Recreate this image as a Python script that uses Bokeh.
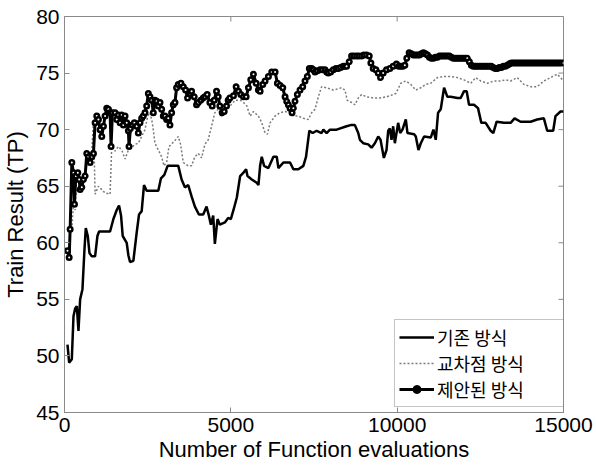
import math
from bokeh.plotting import figure
from bokeh.models import Range1d, FixedTicker, Legend, LegendItem
from bokeh.embed import file_html
from bokeh.resources import INLINE

# ---- data ----
x_lo, x_hi = 0, 15000
y_lo, y_hi = 45, 80
x_ticks = [0, 5000, 10000, 15000]
y_ticks = [45, 50, 55, 60, 65, 70, 75, 80]

legend_labels = ["기존 방식", "교차점 방식", "제안된 방식"]

# 기존 방식 (solid)
a_x = [90, 140, 220, 270, 320, 370, 420, 470, 540, 600, 640, 700, 750, 820, 920, 990, 1040,
       1370, 1470, 1570, 1640, 1700, 1750, 1870, 1920, 1970, 2070, 2170, 2240, 2320, 2390, 2470,
       2820, 2900, 3000, 3100, 3420, 3520, 3620, 3720, 3820, 3920, 4040, 4170, 4270, 4340, 4400,
       4470, 4520, 4600, 4670, 4820, 4920,
       5000, 5080, 5180, 5280, 5380, 5460, 5500, 5630, 5780, 5830, 5880, 5930, 6000, 6130, 6280,
       6380, 6430, 6580, 6780, 6880, 7030, 7180, 7260, 7360, 7460, 7580, 7730, 7780, 7880, 7980,
       8180, 8480, 8600, 8730, 8830, 8880, 8980, 9130, 9230, 9330, 9430, 9500, 9600, 9680, 9730,
       9780, 9830, 9880,
       9930, 10030, 10090, 10160, 10260, 10310, 10510, 10560, 10640, 10710, 10810, 11010, 11090,
       11160, 11230, 11310, 11410, 11510, 11610, 11810, 11910, 12010, 12090, 12160, 12310, 12430,
       12530, 12660, 12810, 12890, 12990, 13210, 13410, 13530, 13710, 14010, 14210, 14410, 14510,
       14690, 14760, 14910, 15000]
a_y = [51.0, 49.4, 49.7, 53.5, 54.2, 54.4, 52.2, 55.0, 55.9, 59.4, 61.3, 60.6, 59.1, 58.8, 58.8, 60.6, 61.0,
       61.0, 62.1, 62.9, 63.3, 62.4, 60.6, 60.0, 58.9, 58.3, 58.4, 60.9, 62.5, 62.8, 65.1, 64.6,
       64.6, 65.7, 66.0, 66.8, 66.8, 65.6, 64.9, 65.1, 64.1, 63.2, 62.5, 62.5, 63.2, 62.4, 61.6,
       62.4, 59.9, 62.1, 61.6, 61.8, 62.2,
       62.1, 62.9, 64.0, 65.9, 66.2, 66.5, 65.9, 65.6, 65.3, 65.1, 66.8, 67.6, 66.8, 66.6, 67.6,
       67.6, 66.6, 67.1, 67.1, 66.5, 66.5, 66.8, 67.6, 69.9, 69.7, 69.9, 69.7, 70.0, 69.7, 70.0,
       70.0, 70.3, 70.4, 70.4, 69.7, 69.1, 68.8, 68.7, 68.4, 68.8, 69.4, 69.1, 67.5, 68.2, 69.9,
       70.1, 69.1, 70.3,
       68.8, 70.6, 69.7, 70.0, 70.9, 69.7, 69.6, 69.4, 68.2, 68.8, 69.4, 69.3, 70.0,
       69.1, 71.5, 71.8, 73.7, 72.9, 72.9, 72.8, 72.8, 73.4, 73.4, 72.2, 72.2, 71.9,
       70.6, 70.6, 69.9, 69.7, 70.7, 70.6, 70.6, 71.0, 70.7, 70.7, 70.9, 71.0, 69.9,
       69.9, 71.2, 71.6, 71.6]

# 교차점 방식 (dotted)
b_x = [220, 270, 320, 370, 440, 520, 620, 700, 800, 870, 920, 1020, 1120, 1220, 1370, 1420, 1520,
       1620, 1720, 1820, 1920, 2020, 2120, 2220, 2320, 2420, 2500, 2570, 2640, 2720, 2820, 2920,
       2990, 3070, 3140, 3240, 3340, 3420, 3490, 3570, 3720, 3820, 3920, 4020, 4120, 4220, 4320,
       4420, 4520, 4620, 4720, 4820, 4920,
       4980, 5130, 5280, 5380, 5480, 5580, 5680, 5830, 5930, 6030, 6100, 6180, 6330, 6480, 6630,
       6780, 6880, 7030, 7180, 7330, 7430, 7530, 7630, 7730, 7880, 8080, 8330, 8430, 8500, 8630,
       8730, 8830, 8930, 9080, 9280, 9480, 9680, 9880,
       9960, 10110, 10260, 10410, 10560, 10710, 10860, 11010, 11210, 11410, 11610, 11810, 12010,
       12210, 12360, 12510, 12710, 12910, 13110, 13260, 13410, 13610, 13810, 14010, 14210, 14410,
       14610, 14810, 14910, 15000]
b_y = [61.2, 63.5, 62.9, 66.2, 65.6, 65.0, 65.9, 67.6, 67.1, 70.6, 64.3, 65.0, 64.7, 64.4, 64.3, 68.5, 68.1,
       68.5, 68.2, 67.4, 68.2, 68.4, 68.7, 68.8, 69.4, 70.0, 71.2, 71.5, 70.6, 68.8, 68.2, 67.6,
       66.8, 67.1, 68.5, 68.8, 69.1, 69.4, 68.7, 67.1, 66.8, 66.8, 67.6, 67.9, 67.5, 68.7, 69.1,
       70.3, 71.5, 71.8, 71.2, 71.8, 72.1,
       72.1, 72.6, 72.6, 72.4, 72.1, 71.2, 71.6, 71.2, 70.6, 69.7, 69.6, 70.6, 71.2, 71.5, 71.6,
       71.5, 71.2, 71.2, 71.0, 70.9, 71.5, 71.8, 72.9, 73.8, 73.7, 73.5, 73.7, 73.5, 72.6, 72.4,
       72.2, 72.8, 73.1, 72.9, 72.8, 72.8, 72.9, 73.1,
       73.2, 74.1, 74.3, 74.0, 73.5, 73.7, 74.0, 74.1, 74.6, 74.7, 74.7, 74.6, 74.4,
       74.1, 74.6, 74.3, 74.1, 74.3, 74.3, 74.4, 74.3, 74.6, 74.0, 73.8, 73.8, 74.3,
       74.6, 74.9, 74.6, 74.3]

# 제안된 방식 (circles)
c_x = [90, 140, 170, 220, 270, 300, 340, 400, 440, 470, 520, 570, 620, 670, 720, 770, 820, 870,
       920, 970, 1020, 1070, 1120, 1170, 1220, 1270, 1320, 1370, 1400, 1440, 1520, 1570, 1620,
       1670, 1720, 1770, 1820, 1870, 1920, 1940, 1980, 2040, 2100, 2170, 2220, 2270, 2320, 2370,
       2420, 2470, 2520, 2570, 2620, 2670, 2720, 2770, 2820, 2870, 2920, 2970, 3020, 3070, 3120,
       3170, 3220, 3270, 3320, 3370, 3420, 3500, 3570, 3640, 3700, 3770, 3820, 3900, 3970, 4020,
       4100, 4170, 4220, 4290, 4370, 4440, 4500, 4570, 4620, 4670, 4740, 4800, 4870, 4920, 4970,
       5080, 5160, 5230, 5300, 5380, 5460, 5530, 5600, 5680, 5760, 5830, 5880, 5960, 6030, 6130,
       6230, 6330, 6400, 6480, 6560, 6630, 6680, 6730, 6780, 6840, 6880, 6930, 7000, 7080, 7160,
       7230, 7300, 7360, 7430, 7480, 7530, 7600, 7680, 7750, 7830, 7880, 7930, 8000, 8080, 8160,
       8230, 8300, 8380, 8430, 8480, 8560, 8630, 8700, 8780, 8850, 8930, 9000, 9080, 9160, 9210,
       9280, 9360, 9430, 9500, 9580, 9680, 9780, 9880, 9980,
       10050, 10110, 10170, 10230, 10290, 10360, 10430, 10490, 10550, 10610, 10670, 10730, 10790,
       10850, 10910, 10970, 11030, 11090, 11150, 11210, 11270, 11330, 11390, 11450, 11510, 11570,
       11630, 11690, 11750, 11810, 11870, 11930, 11990, 12050, 12110, 12170, 12230, 12290, 12350,
       12410, 12470, 12530, 12590, 12650, 12710, 12770, 12830, 12890, 12950, 13010, 13070, 13130,
       13190, 13250, 13310, 13370, 13430, 13490, 13550, 13610, 13670, 13730, 13790, 13850, 13910,
       13970, 14030, 14090, 14150, 14210, 14270, 14330, 14390, 14450, 14510, 14570, 14630, 14690,
       14750, 14810, 14870, 14930, 15000]
c_y = [59.3, 58.7, 61.2, 67.1, 66.2, 63.4, 65.9, 66.2, 65.6, 64.7, 64.9, 65.6, 65.9, 67.9, 67.6, 67.1, 67.6, 67.9,
       70.6, 71.2, 70.9, 70.0, 69.4, 70.3, 71.2, 71.9, 71.8, 71.5, 68.5, 71.5, 71.5, 70.9, 71.3,
       70.6, 71.3, 70.4, 71.2, 70.6, 69.9, 68.5, 70.1, 70.4, 70.6, 70.3, 69.7, 70.6, 71.0, 71.2,
       71.5, 72.1, 73.2, 72.9, 72.6, 71.5, 72.6, 72.5, 72.1, 72.4, 71.8, 71.2, 71.2, 70.9, 71.0,
       70.4, 71.5, 72.2, 72.4, 73.7, 74.0, 74.1, 73.8, 73.5, 72.8, 73.2, 73.4, 72.9, 72.2, 72.4,
       72.6, 72.8, 72.9, 73.1, 72.4, 72.1, 72.6, 73.4, 72.9, 72.1, 71.5, 71.6, 72.1, 72.6, 72.8,
       73.0, 73.8, 73.4, 73.1, 72.9, 72.9, 73.7, 74.4, 74.9, 74.1, 73.5, 73.4, 74.0, 74.3, 74.7,
       75.1, 75.1, 74.1, 73.9, 73.7, 72.9, 72.5, 72.2, 71.9, 71.5, 71.9, 72.5, 73.1, 73.5, 73.8,
       74.3, 74.7, 75.4, 75.4, 75.3, 75.1, 75.2, 75.3, 75.3, 75.3, 75.1, 75.0, 75.1, 75.3, 75.4,
       75.4, 75.5, 75.6, 75.6, 75.6, 76.0, 76.5, 76.5, 76.5, 76.5, 76.5, 76.6, 76.6, 76.5, 75.9,
       75.4, 75.3, 75.0, 74.6, 75.0, 75.3, 75.4, 75.6, 75.8,
       75.6, 75.6, 75.6, 75.7, 76.3, 76.8, 76.7, 76.6, 76.6, 76.6, 76.6, 76.7, 76.8,
       76.7, 76.6, 76.4, 76.3, 76.3, 76.4, 76.4, 76.5, 76.5, 76.5, 76.5, 76.5, 76.5,
       76.4, 76.3, 76.3, 76.3, 76.3, 76.3, 76.3, 76.3, 76.3, 76.0, 75.7, 75.6, 75.6,
       75.6, 75.6, 75.6, 75.6, 75.6, 75.6, 75.6, 75.6, 75.5, 75.4, 75.4, 75.5, 75.5,
       75.6, 75.6, 75.7, 75.8, 75.9, 75.9, 75.9, 75.9, 75.9, 75.9, 75.9, 75.9, 75.9,
       75.9, 75.9, 75.9, 75.9, 75.9, 75.9, 75.9, 75.9, 75.9, 75.9, 75.9, 75.9, 75.9,
       75.9, 75.9, 75.9, 75.9, 75.9]

# ---- styling ----
AX = "#8a8a8a"
TICK_FONT = "Liberation Sans"

p = figure(width=596, height=466, output_backend="svg", toolbar_location=None,
           x_range=Range1d(x_lo, x_hi), y_range=Range1d(y_lo, y_hi),
           min_border_left=63, min_border_right=33, min_border_top=16, min_border_bottom=54,
           background_fill_color="white", border_fill_color="white")
p.grid.visible = False
p.outline_line_color = AX
p.outline_line_width = 1

for ax in (p.xaxis[0], p.yaxis[0]):
    ax.axis_line_color = AX
    ax.major_tick_line_color = AX
    ax.major_tick_in = 5
    ax.major_tick_out = 0
    ax.minor_tick_line_color = None
    ax.major_label_text_font = TICK_FONT
    ax.major_label_text_font_size = "21px"
    ax.major_label_text_color = "black"
    ax.axis_label_text_font = TICK_FONT
    ax.axis_label_text_font_size = "22px"
    ax.axis_label_text_font_style = "normal"
    ax.axis_label_text_color = "black"

p.xaxis[0].ticker = FixedTicker(ticks=x_ticks)
p.yaxis[0].ticker = FixedTicker(ticks=y_ticks)
p.xaxis[0].axis_label = "Number of Function evaluations"
p.yaxis[0].axis_label = "Train Result (TP)"
p.xaxis[0].major_label_standoff = 5
p.xaxis[0].axis_label_standoff = 2
p.yaxis[0].major_label_standoff = 5
p.yaxis[0].axis_label_standoff = 5

# mirrored inward ticks on top and right edges (MATLAB box style)
p.ray(x=x_ticks, y=[y_hi] * len(x_ticks), length=5, length_units="screen",
      angle=-math.pi / 2, line_color=AX, line_width=1)
p.ray(x=[x_hi] * len(y_ticks), y=y_ticks, length=5, length_units="screen",
      angle=math.pi, line_color=AX, line_width=1)

ra = p.line(a_x, a_y, line_color="black", line_width=2.5)
rb = p.line(b_x, b_y, line_color="#7a7a7a", line_width=1.5, line_dash="2 2")
rc = p.line(c_x, c_y, line_color="black", line_width=3)
# small filled dot (hidden beneath the first hollow marker) used for the legend sample
rdot = p.scatter(x=c_x[:1], y=c_y[:1], marker="circle", size=4, line_color="black",
                 fill_color="black")
rcs = p.scatter(c_x, c_y, marker="circle", size=4.5, line_color="black", line_width=2.5,
                fill_color="white")

legend = Legend(items=[LegendItem(label=legend_labels[0], renderers=[ra]),
                       LegendItem(label=legend_labels[1], renderers=[rb]),
                       LegendItem(label=legend_labels[2], renderers=[rc, rdot])],
                location=(330, 5))
legend.label_text_font = "Noto Sans CJK KR"
legend.label_text_font_size = "18px"
legend.label_text_color = "black"
legend.glyph_width = 35
legend.glyph_height = 20
legend.label_height = 20
legend.label_width = 124
legend.label_standoff = 3
legend.spacing = 0
legend.padding = 4
legend.margin = 0
legend.border_line_color = AX
legend.border_line_width = 1
legend.background_fill_color = "white"
legend.background_fill_alpha = 1
p.add_layout(legend, "center")

open("out.html", "w").write(file_html(p, INLINE))
